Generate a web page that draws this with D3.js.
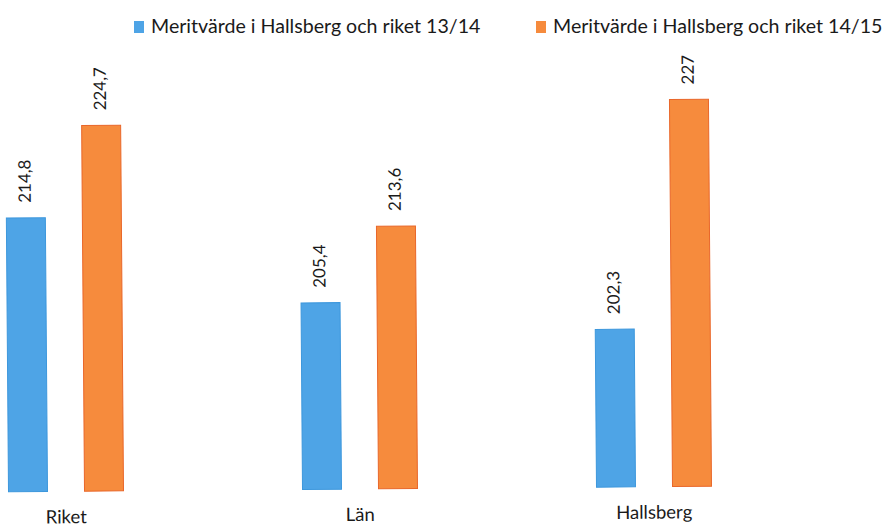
<!DOCTYPE html>
<html>
<head>
<meta charset="utf-8">
<script src="https://cdn.jsdelivr.net/npm/d3@7"></script>
<style>
html,body{margin:0;padding:0;background:#fff;}
svg{display:block;}
text{font-family:Lato, "Open Sans", sans-serif;fill:#1a1a1a;}
</style>
</head>
<body>
<script>
const categories = ["Riket", "Län", "Hallsberg"];
const seriesNames = ["Meritvärde i Hallsberg och riket 13/14", "Meritvärde i Hallsberg och riket 14/15"];
const values1314 = [214.8, 205.4, 202.3];
const values1415 = [224.7, 213.6, 227];
const valueLabels1314 = ["214,8", "205,4", "202,3"];
const valueLabels1415 = ["224,7", "213,6", "227"];
const colors = ["#4ea4e6", "#f68b3d"];
const strokeColors = ["#3d97dc", "#e9672a"];

const W = 885, H = 527;
const svg = d3.select("body").append("svg").attr("width", W).attr("height", H);

const base = 489;
const plot = svg.append("g").attr("transform", `rotate(-0.45, 360, ${base})`);

const x = d3.scalePoint().domain(categories).range([66, 654]);
const xs = d3.scaleBand().domain([0, 1]).range([-57.5, 57.5]).paddingInner(0.487).paddingOuter(0);
const y = d3.scaleLinear().domain([185.3, 227]).range([base, base - 41.7 * 9.28]);

const data = [];
categories.forEach((c, i) => {
  data.push({cat: c, s: 0, v: values1314[i], lab: valueLabels1314[i]});
  data.push({cat: c, s: 1, v: values1415[i], lab: valueLabels1415[i]});
});

plot.selectAll("rect.bar").data(data).enter().append("rect")
  .attr("class", "bar")
  .attr("x", d => x(d.cat) + xs(d.s))
  .attr("width", xs.bandwidth())
  .attr("y", d => y(d.v))
  .attr("height", d => y.range()[0] - y(d.v))
  .attr("fill", d => colors[d.s])
  .attr("stroke", d => strokeColors[d.s])
  .attr("stroke-width", 1);

plot.selectAll("text.val").data(data).enter().append("text")
  .attr("class", "val")
  .attr("transform", d => `translate(${x(d.cat) + xs(d.s) + xs.bandwidth()/2 + 5},${y(d.v) - 15}) rotate(-90)`)
  .attr("text-anchor", "start")
  .style("font-size", "17px")
  .text(d => d.lab);

plot.selectAll("text.cat").data(categories).enter().append("text")
  .attr("class", "cat")
  .attr("x", d => x(d))
  .attr("y", 521)
  .attr("text-anchor", "middle")
  .style("font-size", "18.5px")
  .text(d => d);

const legendX = [134, 536];
seriesNames.forEach((n, i) => {
  const g = svg.append("g").attr("transform", `translate(${legendX[i]},0)`);
  g.append("rect").attr("x", 0).attr("y", 21).attr("width", 10).attr("height", 12)
    .attr("fill", colors[i]);
  g.append("text").attr("x", 17).attr("y", 33).style("font-size", "19.6px").text(n);
});
</script>
</body>
</html>
